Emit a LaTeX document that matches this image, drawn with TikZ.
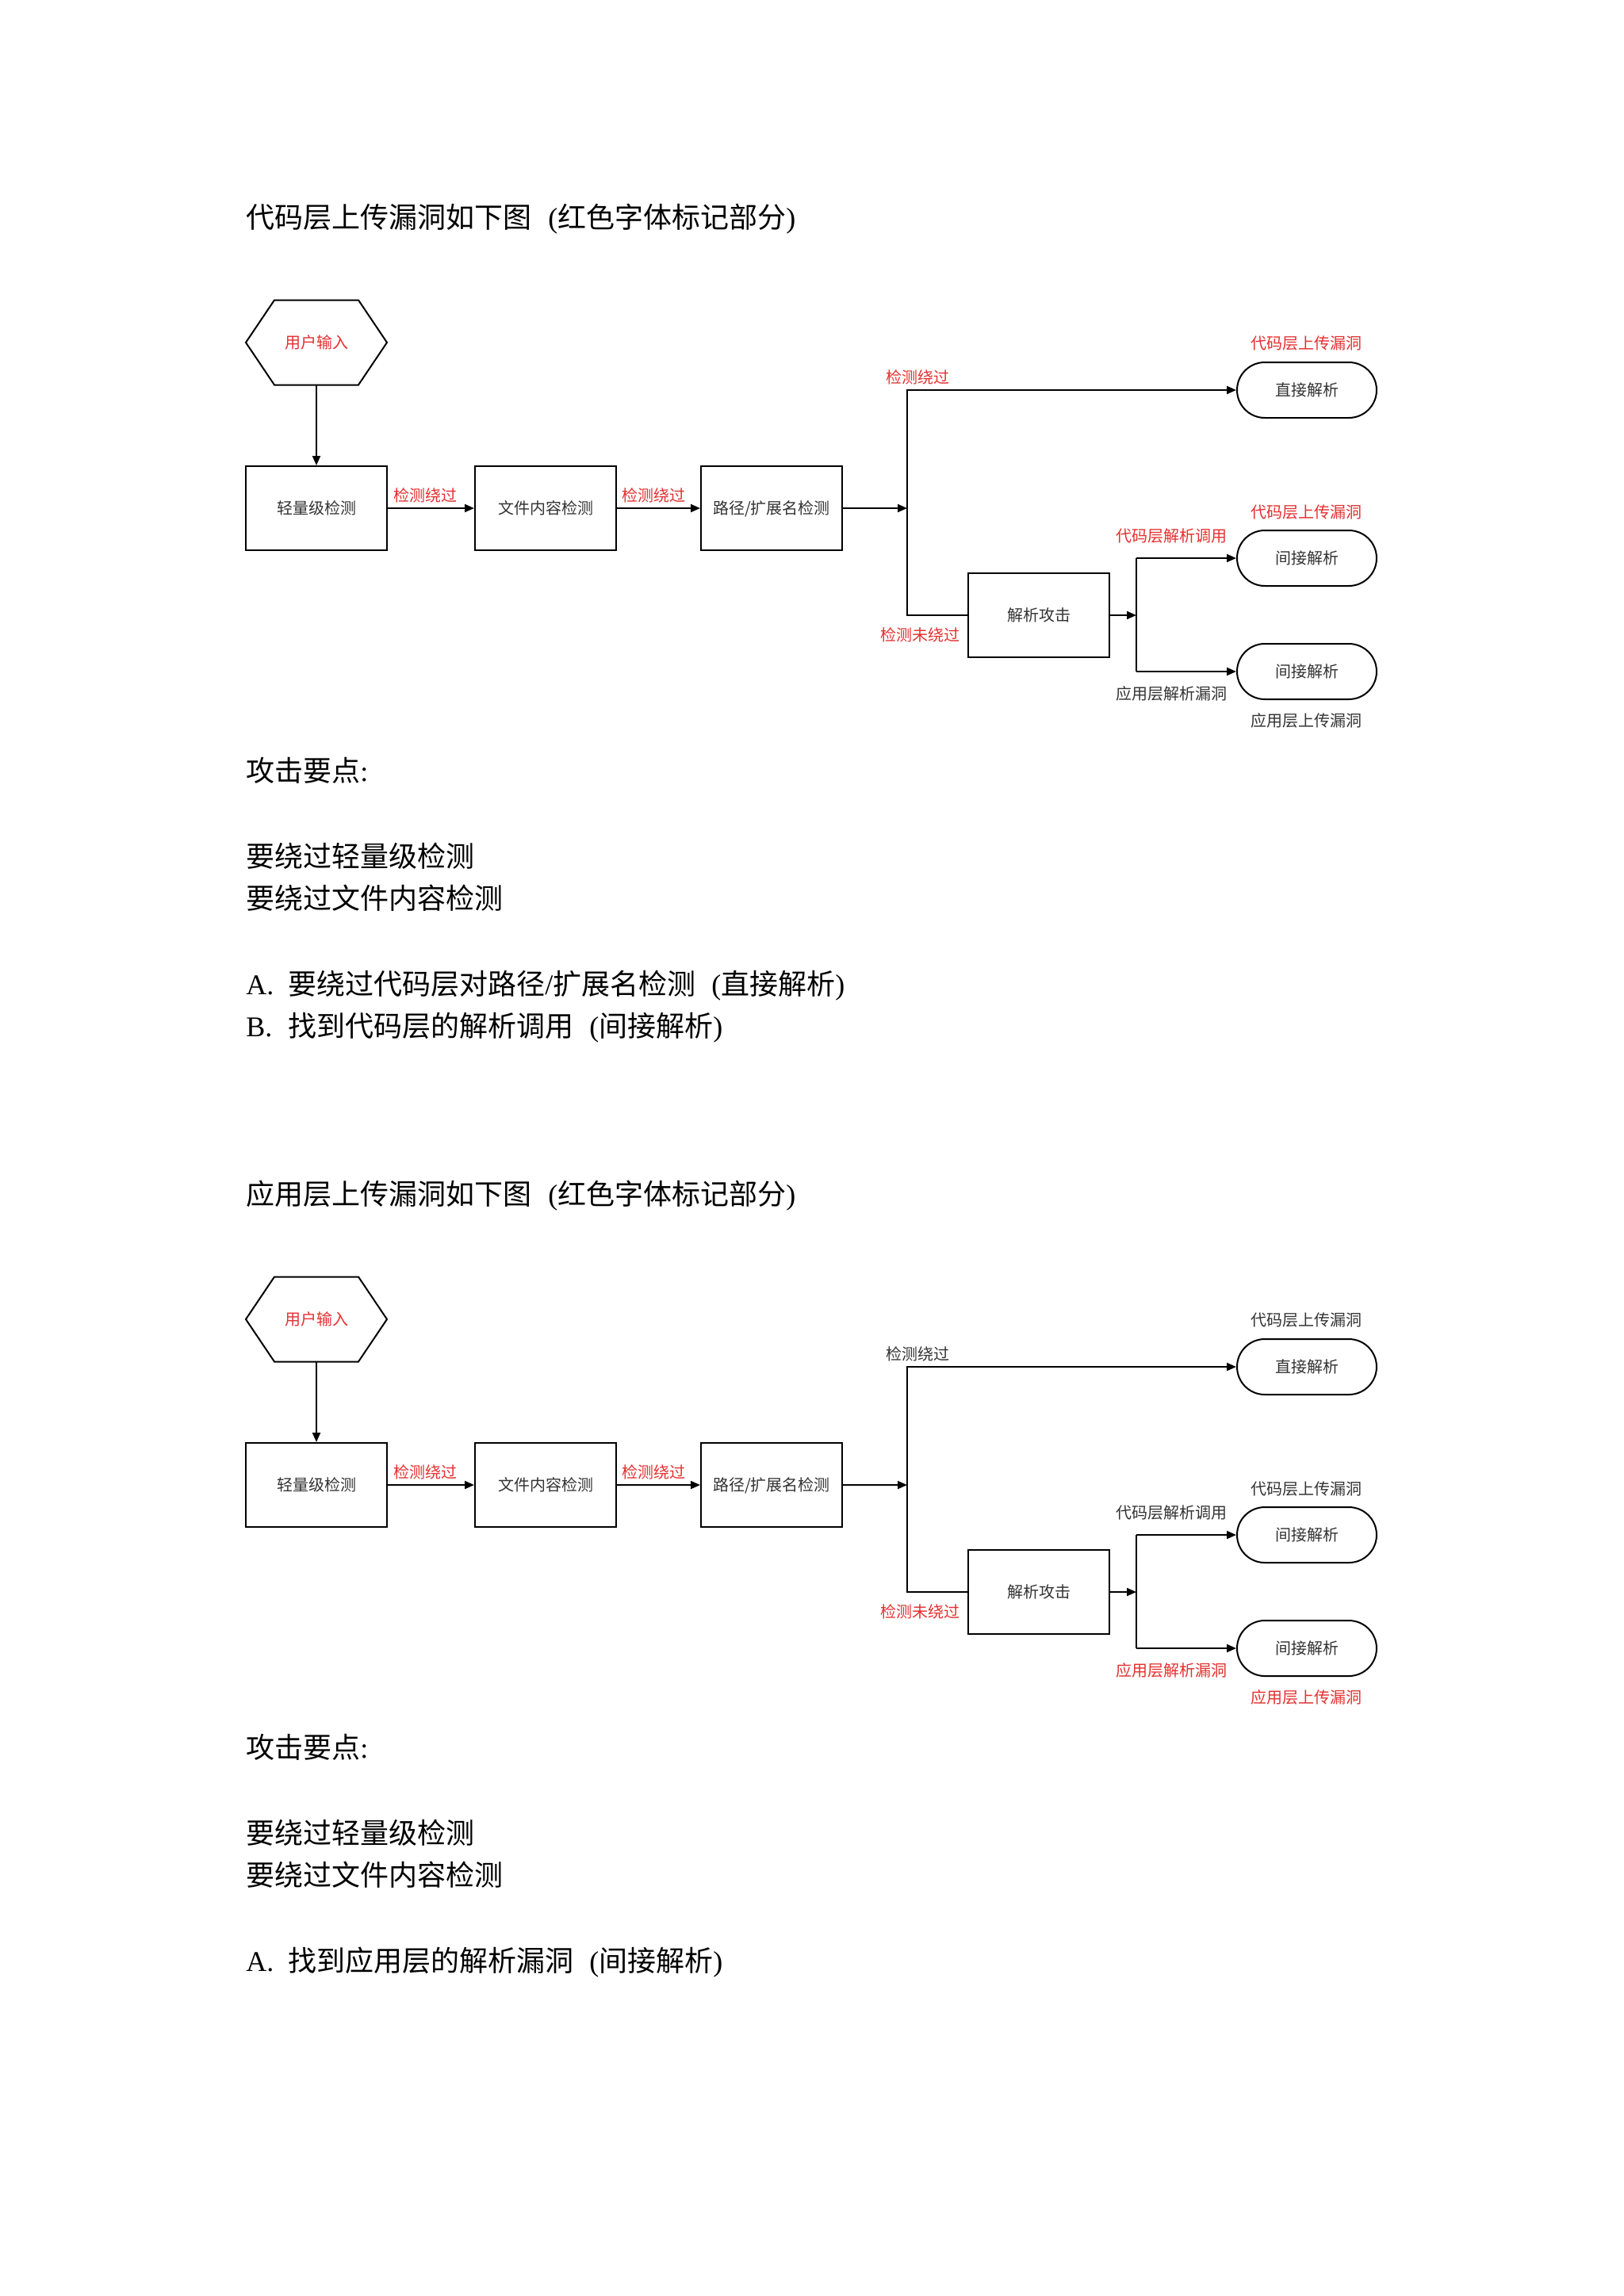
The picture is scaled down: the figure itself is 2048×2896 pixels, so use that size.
\documentclass[tikz,border=0pt]{standalone}
\usepackage{fontspec}
\setmainfont{Liberation Serif}
\newfontfamily\cjk{Noto Sans CJK SC}
\usetikzlibrary{arrows.meta,calc}
\definecolor{mred}{RGB}{228,48,48}
\definecolor{dgray}{RGB}{51,51,51}
\tikzset{
  body/.style={anchor=west,inner sep=0pt,yshift=-3pt,font=\fontsize{18pt}{22pt}\selectfont,text height=0.88em,text depth=0.12em},
  lab/.style={inner sep=0pt,font=\cjk\fontsize{10pt}{12pt}\selectfont,text height=0.88em,text depth=0.12em},
  boxn/.style={draw,line width=1pt,minimum width=89pt,minimum height=53pt,lab,text=dgray},
  stad/.style={draw,line width=1pt,rounded corners=17.5pt,minimum width=88pt,minimum height=35pt,lab,text=dgray},
  hexn/.style={minimum width=89pt,minimum height=53.5pt,outer sep=0pt,lab},
  conn/.style={line width=1pt},
  arr/.style={conn,-{Triangle[length=6pt,width=5pt]}},
}
\newcommand\flowchart[4]{%
  \begin{scope}[shift={(0,#2)},name prefix=#1-]
    \node[hexn,text=mred] (hex) at (399,432) {用户输入};
    \draw[conn,line join=miter] (hex.west) -- ($(hex.north west)+(36,0)$) -- ($(hex.north east)+(-36,0)$) -- (hex.east)
       -- ($(hex.south east)+(-36,0)$) -- ($(hex.south west)+(36,0)$) -- cycle;
    \node[boxn] (b1) at (399,641) {轻量级检测};
    \node[boxn] (b2) at (688,641) {文件内容检测};
    \node[boxn] (b3) at (973,641) {路径/扩展名检测};
    \coordinate (j1) at (1144,641);
    \coordinate (jt) at (1144,492);
    \coordinate (jb) at (1144,776);
    \node[stad] (s1) at (1648,492) {直接解析};
    \node[boxn] (pa) at (1310,776) {解析攻击};
    \coordinate (k1) at (1433,776);
    \coordinate (k2) at (1433,704);
    \coordinate (k3) at (1433,847);
    \node[stad] (s2) at (1648,704) {间接解析};
    \node[stad] (s3) at (1648,847) {间接解析};
    \draw[arr] (hex.south) -- (b1.north);
    \draw[arr] (b1) -- (b2);
    \draw[arr] (b2) -- (b3);
    \draw[arr] (b3.east) -- (j1);
    \draw[arr] (pa.west) -- (jb) -- (jt) -- (s1.west);
    \draw[arr] (pa.east) -- (k1);
    \draw[conn] (k2) -- (k3);
    \draw[arr] (k2) -- (s2.west);
    \draw[arr] (k3) -- (s3.west);
    \node[lab,text=mred] (l1) at (536,625) {检测绕过};
    \node[lab,text=mred] (l2) at (824,625) {检测绕过};
    \node[lab,text=#3] (l3) at (1157,476) {检测绕过};
    \node[lab,text=#3] (l4) at (1647,433) {代码层上传漏洞};
    \node[lab,text=#3] (l5) at (1647,646) {代码层上传漏洞};
    \node[lab,text=#3] (l6) at (1477,676) {代码层解析调用};
    \node[lab,text=mred] (l7) at (1160,801) {检测未绕过};
    \node[lab,text=#4] (l8) at (1477,875) {应用层解析漏洞};
    \node[lab,text=#4] (l9) at (1647,909) {应用层上传漏洞};
  \end{scope}%
}
\begin{document}
\begin{tikzpicture}[x=0.5pt,y=-0.5pt]
\useasboundingbox[fill=white] (0,0) rectangle (2048,2896);
\node[body] (t1) at (310,274) {{\cjk 代码层上传漏洞如下图}\hspace{10.5pt}({\cjk 红色字体标记部分})};
\flowchart{d1}{0}{mred}{dgray}
\node[body] (p1) at (310,972) {{\cjk 攻击要点}:};
\node[body] (p2) at (310,1080) {\cjk 要绕过轻量级检测};
\node[body] (p3) at (310,1133) {\cjk 要绕过文件内容检测};
\node[body] (p4) at (310,1241) {A.\hspace{9pt}{\cjk 要绕过代码层对路径}/{\cjk 扩展名检测}\hspace{10pt}({\cjk 直接解析})};
\node[body] (p5) at (310,1294) {B.\hspace{10pt}{\cjk 找到代码层的解析调用}\hspace{10pt}({\cjk 间接解析})};
\node[body] (t2) at (310,1506) {{\cjk 应用层上传漏洞如下图}\hspace{10.5pt}({\cjk 红色字体标记部分})};
\flowchart{d2}{1232}{dgray}{mred}
\node[body] (q1) at (310,2204) {{\cjk 攻击要点}:};
\node[body] (q2) at (310,2312) {\cjk 要绕过轻量级检测};
\node[body] (q3) at (310,2365) {\cjk 要绕过文件内容检测};
\node[body] (q4) at (310,2473) {A.\hspace{9pt}{\cjk 找到应用层的解析漏洞}\hspace{10pt}({\cjk 间接解析})};
\end{tikzpicture}
\end{document}
